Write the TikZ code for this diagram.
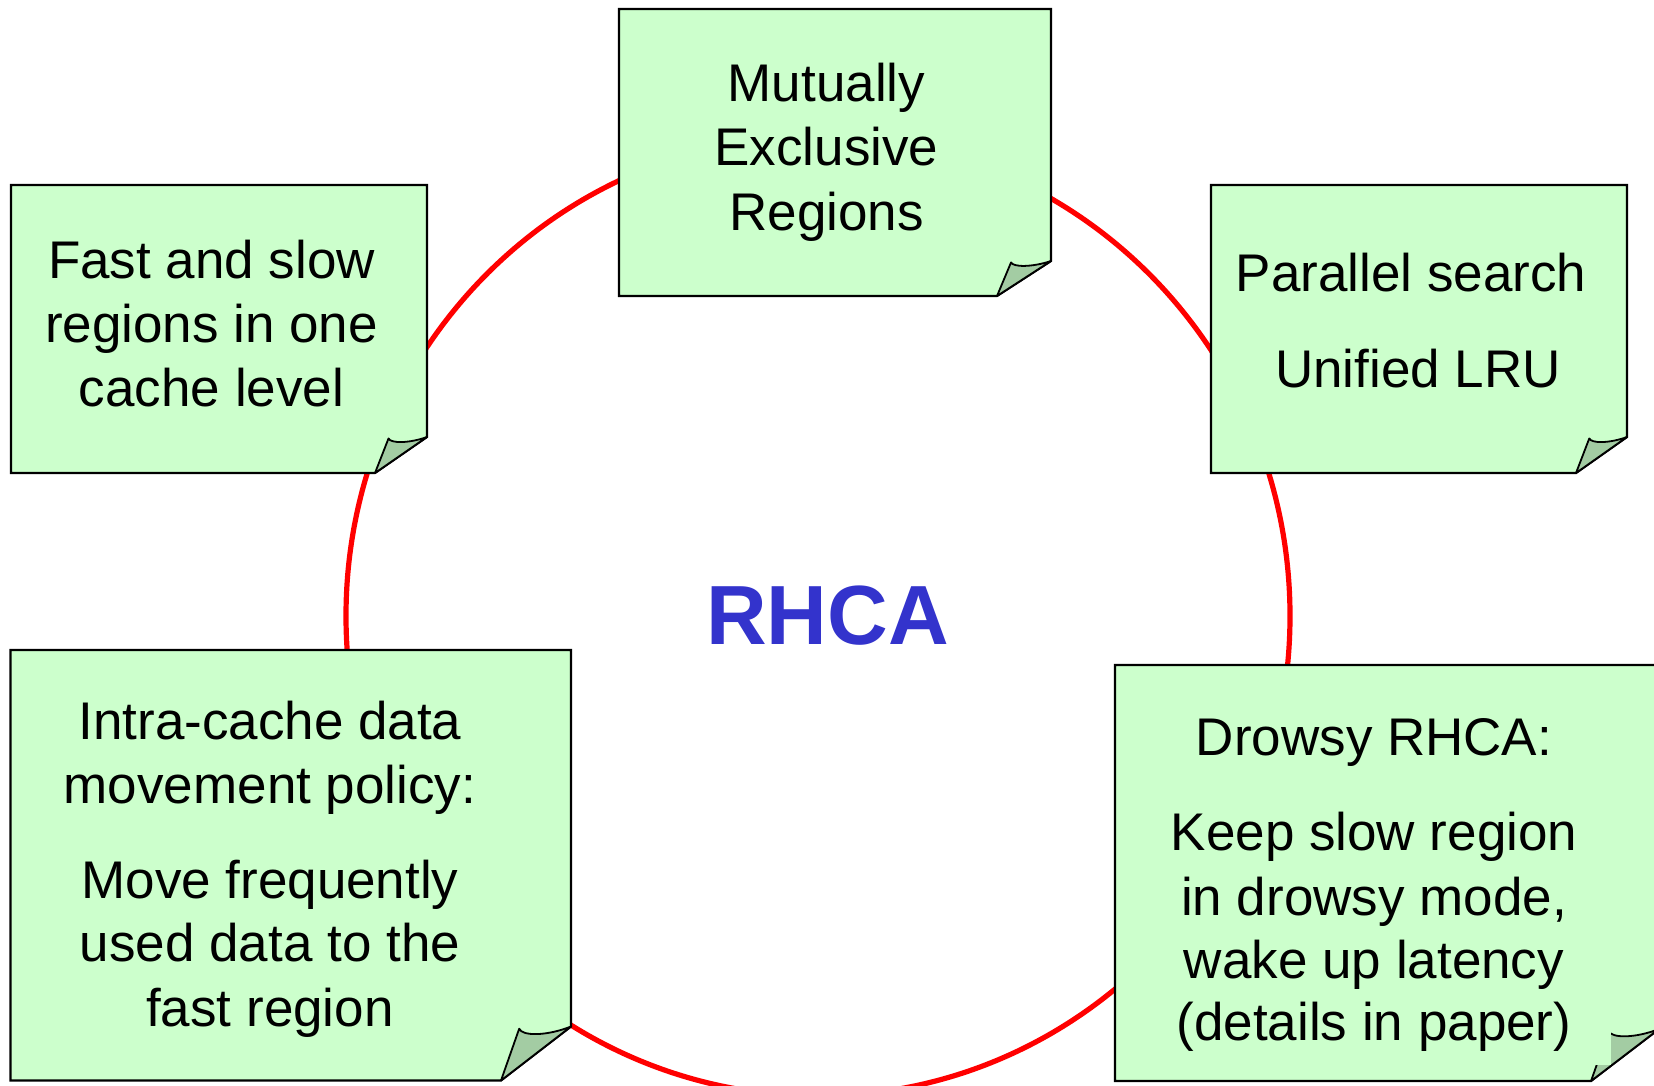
\documentclass[tikz,border=0pt]{standalone}
\usepackage{fontspec}
\setmainfont{Liberation Sans}
\definecolor{notefill}{HTML}{CCFFCC}
\definecolor{flapfill}{HTML}{A3CCA3}
\definecolor{ringred}{HTML}{FF0000}
\definecolor{titleblue}{HTML}{3333CC}
\tikzset{
  notebody/.style={fill=notefill, draw=black, line width=1.1pt, line join=miter},
  noteflap/.style={fill=flapfill, draw=black, line width=0.9pt, line join=round},
  ring/.style={draw=ringred, line width=2.6pt},
  notetext/.style={font=\fontsize{26.5}{32}\selectfont, anchor=base, inner sep=0pt},
  titletext/.style={font=\fontsize{42}{48}\selectfont\bfseries, text=titleblue, anchor=base, inner sep=0pt}
}
% sticky note: left, top, right, bottom, fold width, fold height (pixel units, y down)
\newcommand{\stickynote}[6]{%
  \path[notebody] (#1,#2) -- (#3,#2) -- (#3,{#4-#6}) -- ({#3-#5},#4) -- (#1,#4) -- cycle;
  \path[noteflap] ({#3-#5},#4) -- ({#3-0.74*#5},{#4-0.96*#6})
    .. controls ({#3-0.70*#5},{#4-0.82*#6}) and ({#3-0.35*#5},{#4-0.82*#6}) .. (#3,{#4-#6}) -- cycle;
}
\begin{document}
\begin{tikzpicture}[x=0.5pt, y=-0.5pt]
  \useasboundingbox (0,0) rectangle (1654,1086);
  \fill[white] (0,0) rectangle (1654,1086);

  % ring behind the notes
  \draw[ring] (818,616) ellipse [x radius=236pt, y radius=240pt];

  % centre title
  \node[titletext] (title) at (827.5,644) {RHCA};

  % top note
  \stickynote{619}{9}{1051}{296}{54}{35}
  \node[notetext] (top1) at (826.5,101.7) {Mutually};
  \node[notetext] (top2) at (826.5,165.7) {Exclusive};
  \node[notetext] (top3) at (826.5,230) {Regions};

  % upper left note
  \stickynote{11}{185}{427}{473}{52}{36}
  \node[notetext] (ul1) at (211.5,278) {Fast and slow};
  \node[notetext] (ul2) at (211.5,342.7) {regions in one};
  \node[notetext] (ul3) at (211.5,406.7) {cache level};

  % upper right note
  \stickynote{1211}{185}{1627}{473}{51}{36}
  \node[notetext] (ur1) at (1411,291.7) {Parallel search};
  \node[notetext] (ur2) at (1418,387.3) {Unified LRU};

  % lower left note
  \stickynote{10.5}{650}{571}{1080.5}{70}{54}
  \node[notetext] (ll1) at (270,739) {Intra-cache data};
  \node[notetext] (ll2) at (270,803.3) {movement policy:};
  \node[notetext] (ll3) at (270,898.3) {Move frequently};
  \node[notetext] (ll4) at (270,961.7) {used data to the};
  \node[notetext] (ll5) at (270,1026.7) {fast region};

  % lower right note
  \stickynote{1115}{665}{1659}{1081}{68}{52}
  \fill[notefill] (1585,1025) rectangle (1611,1065);
  \node[notetext] (lr1) at (1374,755) {Drowsy RHCA:};
  \node[notetext] (lr2) at (1374,850.7) {Keep slow region};
  \node[notetext] (lr3) at (1374,915) {in drowsy mode,};
  \node[notetext] (lr4) at (1374,978) {wake up latency};
  \node[notetext] (lr5) at (1374,1040) {(details in paper)};
\end{tikzpicture}
\end{document}
